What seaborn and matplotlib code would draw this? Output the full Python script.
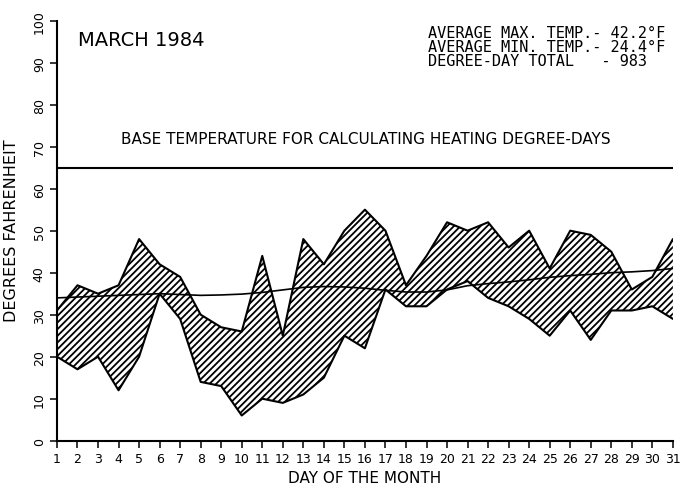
import matplotlib
matplotlib.use("Agg")
import matplotlib.pyplot as plt
import seaborn as sns
import numpy as np
import pandas as pd

days = list(range(1, 32))
tmax = [31, 37, 35, 37, 48, 42, 39, 30, 27, 26, 44, 25, 48, 42, 50, 55, 50, 37, 44, 52,
        50, 52, 46, 50, 41, 50, 49, 45, 36, 39, 48]
tmin = [20, 17, 20, 12, 20, 35, 29, 14, 13, 6, 10, 9, 11, 15, 25, 22, 36, 32, 32, 36,
        38, 34, 32, 29, 25, 31, 24, 31, 31, 32, 29]
normal = [34.0, 34.2, 34.4, 34.6, 34.8, 35.0, 34.8, 34.6, 34.7, 34.9, 35.3, 35.9, 36.5,
          36.7, 36.6, 36.3, 35.8, 35.4, 35.4, 35.9, 36.9, 37.4, 37.8, 38.3, 38.9, 39.3,
          39.6, 40.0, 40.2, 40.5, 41.0]
base_temp = 65
y_ticks = list(range(0, 101, 10))

df = pd.DataFrame({"day": days, "tmax": tmax, "tmin": tmin, "normal": normal})

sns.set_style("ticks")
plt.rcParams['font.family'] = ['DejaVu Sans']
plt.rcParams['hatch.linewidth'] = 1.3
plt.rcParams['hatch.color'] = 'black'
for k in ['text.color', 'axes.labelcolor', 'xtick.color', 'ytick.color']:
    plt.rcParams[k] = 'black'

fig = plt.figure(figsize=(6.88, 4.85), dpi=100)
ax = fig.add_axes([0.0828, 0.0893, 0.978 - 0.0828, 0.9553 - 0.0893])

ax.fill_between(df["day"], df["tmin"], df["tmax"], facecolor="white",
                edgecolor="black", hatch="/////", linewidth=0)
sns.lineplot(data=df, x="day", y="tmax", color="black", linewidth=1.5, ax=ax)
sns.lineplot(data=df, x="day", y="tmin", color="black", linewidth=1.5, ax=ax)
sns.lineplot(data=df, x="day", y="normal", color="black", linewidth=1.2, ax=ax)
ax.axhline(base_temp, color="black", linewidth=1.5)

ax.set_xlim(1, 31)
ax.set_ylim(0, 100)
ax.set_xticks(days)
ax.set_xticklabels([str(d) for d in days], fontsize=9)
ax.set_yticks(y_ticks)
ax.set_yticklabels([str(v) for v in y_ticks], fontsize=9, rotation=90, va="center")
ax.tick_params(axis="both", direction="out", length=5, width=1.1, color="black")
ax.tick_params(axis="y", pad=3)
ax.tick_params(axis="x", pad=3)
for s in ["top", "right"]:
    ax.spines[s].set_visible(False)
for s in ["left", "bottom"]:
    ax.spines[s].set_linewidth(1.5)
    ax.spines[s].set_color("black")

ax.set_xlabel("DAY OF THE MONTH", fontsize=11, labelpad=4)
ax.set_ylabel("DEGREES FAHRENHEIT", fontsize=11.5, labelpad=4)
ax.yaxis.set_label_coords(-0.062, 0.5 + (441.7 - 231 - 210) / 420)

fig.text(78 / 688, 1 - 40 / 485, "MARCH 1984", fontsize=14, va="center", ha="left")
fig.text(366 / 688, 1 - 139 / 485,
         "BASE TEMPERATURE FOR CALCULATING HEATING DEGREE-DAYS",
         fontsize=11, va="center", ha="center")
stats = ["AVERAGE MAX. TEMP.- 42.2°F",
         "AVERAGE MIN. TEMP.- 24.4°F",
         "DEGREE-DAY TOTAL   - 983"]
for i, line in enumerate(stats):
    fig.text(428 / 688, 1 - (33 + 14.5 * i) / 485, line, fontsize=11,
             family="DejaVu Sans Mono", va="center", ha="left")

fig.savefig("out.png", dpi=100)
